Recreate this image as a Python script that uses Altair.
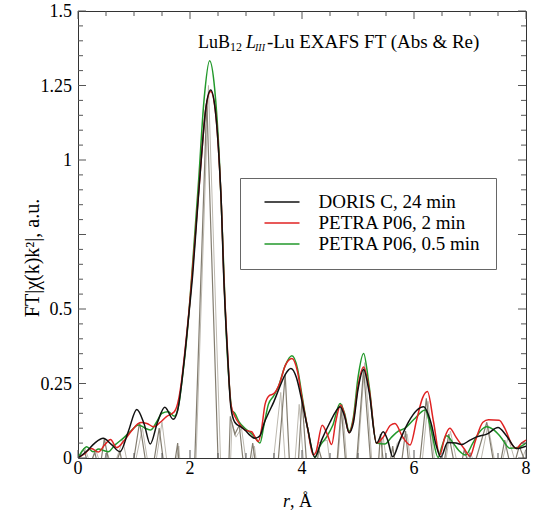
import altair as alt
import pandas as pd

FONT = "Liberation Serif"

# ---------------- data ----------------
series_names = ["DORIS C, 24 min", "PETRA P06, 2 min", "PETRA P06, 0.5 min"]
series_colors = ["#111111", "#e02222", "#22992b"]

black_r = [0.0, 0.15, 0.3, 0.45, 0.6, 0.75, 0.9, 1.05, 1.18, 1.29, 1.42, 1.55, 1.70, 1.78, 1.85,
           1.91, 2.0, 2.05, 2.12, 2.2, 2.28, 2.37, 2.45, 2.52, 2.56, 2.6, 2.67, 2.73, 2.8, 2.9,
           2.98, 3.08, 3.16, 3.25, 3.33, 3.4, 3.5, 3.58, 3.7, 3.8, 3.9, 4.0, 4.1, 4.23, 4.35,
           4.5, 4.6, 4.68, 4.76, 4.84, 4.92, 5.0, 5.10, 5.2, 5.33, 5.45, 5.53, 5.62, 5.75, 5.9,
           6.05, 6.17, 6.3, 6.4, 6.48, 6.6, 6.75, 6.85, 7.0, 7.12, 7.3, 7.5, 7.65, 7.83, 8.0]
black_v = [0.0, 0.022, 0.05, 0.066, 0.045, 0.021, 0.09, 0.163, 0.115, 0.047, 0.12, 0.17, 0.13, 0.16, 0.25,
           0.35, 0.52, 0.62, 0.8, 1.0, 1.17, 1.235, 1.17, 1.0, 0.85, 0.62, 0.35, 0.17, 0.12, 0.105,
           0.094, 0.075, 0.066, 0.075, 0.12, 0.15, 0.19, 0.228, 0.28, 0.30, 0.27, 0.19, 0.1, 0.003, 0.06,
           0.12, 0.155, 0.172, 0.14, 0.085, 0.12, 0.23, 0.297, 0.22, 0.05, 0.088, 0.06, 0.004, 0.06, 0.12,
           0.16, 0.172, 0.12, 0.04, 0.003, 0.052, 0.05, 0.045, 0.06, 0.071, 0.08, 0.102, 0.075, 0.032, 0.04]

red_r = [0.0, 0.1, 0.24, 0.36, 0.48, 0.58, 0.69, 0.81, 0.95, 1.12, 1.23, 1.35, 1.47, 1.58, 1.72,
         1.8, 1.85, 1.91, 2.0, 2.1, 2.2, 2.28, 2.37, 2.45, 2.52, 2.56, 2.6, 2.67, 2.73, 2.8,
         2.9, 2.98, 3.1, 3.22, 3.28, 3.34, 3.42, 3.49, 3.6, 3.7, 3.82, 3.92, 4.0, 4.1, 4.2,
         4.25, 4.36, 4.45, 4.53, 4.6, 4.69, 4.76, 4.84, 4.92, 5.0, 5.10, 5.2, 5.33, 5.45, 5.58,
         5.66, 5.8, 5.93, 6.05, 6.15, 6.24, 6.35, 6.46, 6.55, 6.64, 6.75, 6.9, 7.0, 7.1, 7.23,
         7.33, 7.52, 7.62, 7.75, 7.83, 7.92, 8.0]
red_v = [0.0, 0.012, 0.032, 0.02, 0.045, 0.062, 0.035, 0.055, 0.09, 0.119, 0.116, 0.105, 0.12, 0.139, 0.155,
         0.2, 0.26, 0.36, 0.53, 0.76, 1.0, 1.17, 1.23, 1.17, 1.0, 0.85, 0.63, 0.36, 0.18, 0.14,
         0.11, 0.094, 0.088, 0.055, 0.1, 0.18, 0.21, 0.215, 0.25, 0.31, 0.334, 0.29, 0.2, 0.1, 0.01,
         0.02, 0.11, 0.08, 0.045, 0.12, 0.178, 0.145, 0.085, 0.13, 0.24, 0.305, 0.23, 0.05, 0.07, 0.11,
         0.116, 0.07, 0.044, 0.13, 0.2, 0.223, 0.12, 0.01, 0.07, 0.1, 0.07, 0.03, 0.006, 0.06, 0.12,
         0.128, 0.127, 0.1, 0.045, 0.032, 0.05, 0.06]

green_r = [0.0, 0.08, 0.155, 0.27, 0.37, 0.46, 0.54, 0.66, 0.8, 0.93, 1.08, 1.2, 1.3, 1.4, 1.5,
           1.61, 1.72, 1.8, 1.87, 1.95, 2.05, 2.15, 2.25, 2.35, 2.44, 2.52, 2.58, 2.64, 2.7, 2.75,
           2.8, 2.88, 2.98, 3.08, 3.16, 3.25, 3.32, 3.4, 3.5, 3.58, 3.7, 3.82, 3.92, 4.0, 4.1,
           4.23, 4.32, 4.44, 4.55, 4.68, 4.76, 4.84, 4.92, 5.0, 5.10, 5.2, 5.33, 5.48, 5.6, 5.72,
           5.84, 6.0, 6.2, 6.3, 6.43, 6.5, 6.58, 6.7, 6.8, 6.92, 7.05, 7.18, 7.3, 7.42, 7.55,
           7.71, 7.85, 8.0]
green_v = [0.0, 0.025, 0.038, 0.021, 0.03, 0.025, 0.021, 0.044, 0.065, 0.088, 0.111, 0.1, 0.094, 0.12, 0.15,
           0.155, 0.14, 0.18, 0.28, 0.42, 0.66, 0.92, 1.2, 1.333, 1.24, 1.02, 0.75, 0.45, 0.25, 0.16,
           0.15, 0.12, 0.1, 0.085, 0.07, 0.05, 0.11, 0.18, 0.21, 0.24, 0.31, 0.343, 0.3, 0.21, 0.1,
           0.002, 0.04, 0.071, 0.11, 0.183, 0.15, 0.09, 0.14, 0.27, 0.351, 0.24, 0.05, 0.047, 0.07, 0.09,
           0.1, 0.13, 0.161, 0.1, 0.002, 0.04, 0.075, 0.05, 0.025, 0.01, 0.05, 0.09, 0.105, 0.095, 0.07,
           0.033, 0.035, 0.05]

# real parts (grey), only their positive lobes are visible
re1_r = [0.0, 0.1, 0.2, 0.3, 0.38, 0.47, 0.6, 0.75, 0.9, 1.1, 1.28, 1.45, 1.62, 1.78, 1.98,
         2.3, 2.6, 2.72, 2.8, 2.88, 3.0, 3.12, 3.3, 3.45, 3.7, 3.85, 4.0, 4.15, 4.3, 4.42,
         4.55, 4.7, 4.88, 5.1, 5.3, 5.4, 5.5, 5.62, 5.72, 5.85, 6.0, 6.22, 6.42, 6.62, 6.78,
         6.9, 7.02, 7.3, 7.48, 7.62, 7.75, 7.88, 8.0]
re1_v = [0.0, 0.03, -0.03, 0.02, -0.05, 0.065, -0.06, 0.02, -0.12, 0.12, -0.1, 0.1, -0.15, 0.05, -0.6,
         1.2, -0.6, 0.14, 0.08, 0.11, -0.1, 0.05, -0.2, -0.3, 0.28, -0.3, 0.2, -0.2, 0.03, -0.05,
         -0.2, 0.17, -0.25, 0.3, -0.2, 0.08, -0.1, 0.04, -0.1, 0.09, -0.2, 0.2, -0.15, 0.08, -0.08,
         0.03, -0.06, 0.12, -0.08, 0.06, -0.05, 0.04, -0.02]

re2_r = [0.0, 0.12, 0.22, 0.32, 0.42, 0.52, 0.62, 0.8, 0.95, 1.15, 1.32, 1.5, 1.66, 1.8, 2.02,
         2.33, 2.63, 2.75, 2.82, 2.92, 3.05, 3.15, 3.35, 3.62, 3.78, 3.95, 4.1, 4.28, 4.45, 4.58,
         4.72, 4.9, 5.12, 5.32, 5.45, 5.56, 5.7, 5.88, 6.05, 6.25, 6.45, 6.65, 6.82, 7.0, 7.15,
         7.32, 7.5, 7.68, 7.85, 8.0]
re2_v = [0.0, 0.035, -0.02, 0.025, -0.03, 0.02, -0.04, 0.06, -0.08, 0.1, -0.1, 0.12, -0.12, 0.04, -0.5,
         1.25, -0.5, 0.12, 0.07, 0.1, -0.08, 0.04, -0.25, 0.22, -0.25, 0.18, -0.2, 0.05, 0.06, -0.15,
         0.18, -0.25, 0.32, -0.2, 0.07, -0.08, 0.05, 0.08, -0.2, 0.19, -0.15, 0.09, -0.06, 0.02, -0.05,
         0.11, -0.07, 0.07, -0.04, 0.03]

x_label_values = [0, 2, 4, 6, 8]
x_label_texts = ["0", "2", "4", "6", "8"]
y_label_values = [0, 0.25, 0.5, 1, 1.25, 1.5]
y_label_texts = ["0", "0.25", "0.5", "1", "1.25", "1.5"]
x_major_ticks = [0, 2, 4, 6, 8]
x_minor_ticks = [0.5, 1, 1.5, 2.5, 3, 3.5, 4.5, 5, 5.5, 6.5, 7, 7.5]
y_major_ticks = [0, 0.25, 0.5, 0.75, 1, 1.25, 1.5]
y_minor_ticks = [round(i * 0.05, 2) for i in range(31) if round(i * 0.05, 2) not in y_major_ticks]

# ---------------- chart ----------------
W, H = 448, 447
xscale = alt.Scale(domain=[0, 8], nice=False, zero=False)
yscale = alt.Scale(domain=[0, 1.5], nice=False, zero=False)

X = alt.X("r:Q", scale=xscale, axis=None)
Y = alt.Y("v:Q", scale=yscale, axis=None)

color = alt.Color("series:N",
                  scale=alt.Scale(domain=series_names, range=series_colors),
                  legend=alt.Legend(title=None, orient="none", legendX=162, legendY=167,
                                    direction="vertical", symbolType="M-2.5,0H2.5",
                                    symbolSize=196, symbolStrokeWidth=1.6, symbolOffset=18,
                                    labelFont=FONT, labelFontSize=19, labelColor="black",
                                    labelOffset=27, labelLimit=400, padding=14.5, rowPadding=1,
                                    strokeColor="#666666", fillColor="white"))


def df(rs, vs, name):
    return pd.DataFrame({"r": rs, "v": vs, "series": name})


grey1 = alt.Chart(df(re2_r, re2_v, "re2")).mark_line(
    clip=True, strokeWidth=1.0, color="#bdb9b0").encode(x=X, y=Y)
grey2 = alt.Chart(df(re1_r, re1_v, "re1")).mark_line(
    clip=True, strokeWidth=1.2, color="#837d70").encode(x=X, y=Y)

green = alt.Chart(df(green_r, green_v, series_names[2])).mark_line(
    clip=True, strokeWidth=1.5, interpolate="monotone").encode(x=X, y=Y, color=color)
red = alt.Chart(df(red_r, red_v, series_names[1])).mark_line(
    clip=True, strokeWidth=1.5, interpolate="monotone").encode(x=X, y=Y, color=color)
black = alt.Chart(df(black_r, black_v, series_names[0])).mark_line(
    clip=True, strokeWidth=1.5, interpolate="monotone").encode(x=X, y=Y, color=color)

TICK = "#555555"
ymaj = pd.DataFrame({"v": y_major_ticks})
ymin = pd.DataFrame({"v": y_minor_ticks})
xmaj = pd.DataFrame({"r": x_major_ticks})
xmin = pd.DataFrame({"r": x_minor_ticks})

ticks = [
    alt.Chart(ymaj).mark_rule(color=TICK).encode(y=Y, x=alt.value(0), x2=alt.value(8)),
    alt.Chart(ymin).mark_rule(color=TICK).encode(y=Y, x=alt.value(0), x2=alt.value(5)),
    alt.Chart(ymaj).mark_rule(color=TICK).encode(y=Y, x=alt.value(W), x2=alt.value(W - 8)),
    alt.Chart(ymin).mark_rule(color=TICK).encode(y=Y, x=alt.value(W), x2=alt.value(W - 5)),
    alt.Chart(xmaj).mark_rule(color=TICK).encode(x=X, y=alt.value(H), y2=alt.value(H - 8)),
    alt.Chart(xmin).mark_rule(color=TICK).encode(x=X, y=alt.value(H), y2=alt.value(H - 5)),
    alt.Chart(xmaj).mark_rule(color=TICK).encode(x=X, y=alt.value(0), y2=alt.value(8)),
    alt.Chart(xmin).mark_rule(color=TICK).encode(x=X, y=alt.value(0), y2=alt.value(5)),
]

# tick labels drawn through the scales
ylabels = alt.Chart(pd.DataFrame({"v": y_label_values, "t": y_label_texts})).mark_text(
    font=FONT, fontSize=18, align="right", baseline="middle", color="black", dy=1
).encode(y=Y, x=alt.value(-6), text="t:N")
xlabels = alt.Chart(pd.DataFrame({"r": x_label_values, "t": x_label_texts})).mark_text(
    font=FONT, fontSize=18, align="center", baseline="alphabetic", color="black"
).encode(x=X, y=alt.value(H + 16), text="t:N")


def txt(s, x, y, size=19, style="normal", align="left", angle=0, baseline="alphabetic"):
    return alt.Chart(pd.DataFrame({"t": [s]})).mark_text(
        font=FONT, fontSize=size, fontStyle=style, align=align, baseline=baseline,
        angle=angle, color="black").encode(x=alt.value(x), y=alt.value(y), text="t:N")


texts = [
    txt("LuB", 120, 37, size=18),
    txt("12", 152, 40, size=12),
    txt("L", 168, 37, size=18, style="italic"),
    txt("III", 177, 40, size=10, style="italic"),
    txt("-Lu EXAFS FT (Abs & Re)", 189, 37),
    txt("r", 212, 496, size=18, style="italic", align="right"),
    txt(", Å", 212, 496, size=18),
    txt("FT|χ(k)k²|, a.u.", -45, 247, size=20, align="center", angle=270, baseline="middle"),
]

chart = alt.layer(grey1, grey2, green, red, black, *ticks, ylabels, xlabels, *texts).properties(
    width=W, height=H,
    autosize=alt.AutoSizeParams(type="none"),
    padding={"left": 78, "top": 11, "right": 8, "bottom": 54},
    background="white",
).configure_view(
    stroke="#333333", strokeWidth=1
)

chart.save("out.html", embed_options={"renderer": "svg", "actions": False})
